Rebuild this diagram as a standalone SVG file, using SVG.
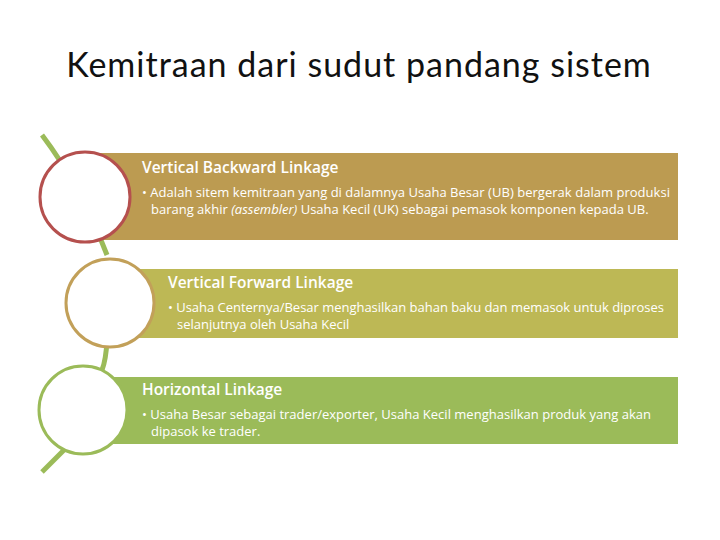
<svg xmlns="http://www.w3.org/2000/svg" width="720" height="540" viewBox="0 0 720 540">
<style>
.h{font-family:"Open Sans","Liberation Sans",sans-serif;font-size:15.5px;fill:#fff;font-weight:600}
.t{font-family:"Open Sans","Liberation Sans",sans-serif;font-size:13px;fill:#fff}
.c{fill:#fff;stroke-width:3}
</style>
<rect width="720" height="540" fill="#fff"/>
<text x="359" y="77" text-anchor="middle" font-family="Lato,'Open Sans',sans-serif" font-size="34" letter-spacing="1" fill="#111">Kemitraan dari sudut pandang sistem</text>
<g id="connectors" stroke="#9BBB59" stroke-width="5" fill="none">
<path d="M42,135 Q80,185 107,255"/>
<path d="M107,340 Q106,360 102,370"/>
<path d="M64,450 L42,472"/>
</g>
<g id="n1">
<rect x="85" y="153" width="593" height="87" fill="#BC9B51"/>
<circle class="c" cx="85" cy="197" r="45" stroke="#B5504E"/>
<text class="h" x="142" y="173">Vertical Backward Linkage</text>
<text class="t" x="142" y="197" textLength="528">• Adalah sitem kemitraan yang di dalamnya Usaha Besar (UB) bergerak dalam produksi</text>
<text class="t" x="151" y="214">barang akhir <tspan font-style="italic">(assembler)</tspan> Usaha Kecil (UK) sebagai pemasok komponen kepada UB.</text>
</g>
<g id="n2">
<rect x="110" y="269" width="568" height="69" fill="#BDB855"/>
<circle class="c" cx="110" cy="303" r="44" stroke="#C2A059"/>
<text class="h" x="168" y="288">Vertical Forward Linkage</text>
<text class="t" x="168" y="312" textLength="496">• Usaha Centernya/Besar menghasilkan bahan baku dan memasok untuk diproses</text>
<text class="t" x="177" y="329">selanjutnya oleh Usaha Kecil</text>
</g>
<g id="n3">
<rect x="83" y="377" width="595" height="67" fill="#9BBB59"/>
<circle class="c" cx="83" cy="410" r="44" stroke="#9BBB59"/>
<text class="h" x="142" y="395">Horizontal Linkage</text>
<text class="t" x="142" y="419" textLength="509">• Usaha Besar sebagai trader/exporter, Usaha Kecil menghasilkan produk yang akan</text>
<text class="t" x="151" y="436">dipasok ke trader.</text>
</g>
</svg>
